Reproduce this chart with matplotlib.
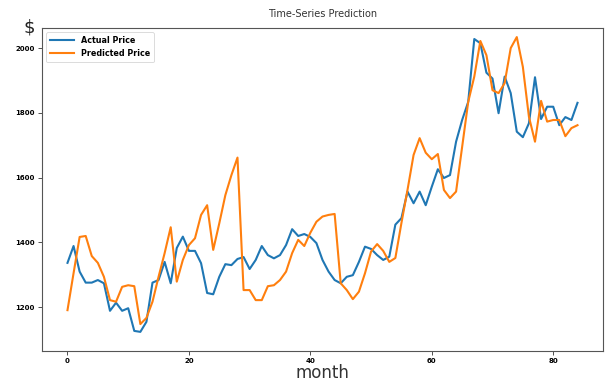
import matplotlib
matplotlib.use("Agg")
import matplotlib.pyplot as plt
import numpy as np

months = list(range(85))
actual_price = [1337, 1389, 1310, 1276, 1276, 1284, 1274, 1189, 1214, 1189,
                1197, 1127, 1124, 1155, 1276, 1284, 1340, 1274, 1383, 1418,
                1374, 1374, 1336, 1244, 1240, 1294, 1333, 1330, 1349, 1355,
                1318, 1346, 1389, 1361, 1351, 1361, 1392, 1441, 1420, 1426,
                1417, 1398, 1346, 1310, 1284, 1274, 1294, 1299, 1340, 1387,
                1380, 1361, 1346, 1356, 1455, 1475, 1557, 1521, 1557, 1515,
                1572, 1626, 1599, 1608, 1711, 1778, 1834, 2028, 2015, 1924,
                1906, 1799, 1912, 1861, 1742, 1725, 1768, 1910, 1781, 1819,
                1819, 1762, 1787, 1778, 1831]
predicted_price = [1191, 1305, 1417, 1420, 1358, 1337, 1294, 1222, 1217, 1263,
                   1268, 1265, 1148, 1167, 1217, 1294, 1367, 1447, 1279, 1346,
                   1392, 1413, 1485, 1515, 1377, 1459, 1546, 1608, 1662, 1253,
                   1253, 1222, 1222, 1265, 1268, 1284, 1310, 1367, 1408, 1389,
                   1430, 1464, 1480, 1485, 1488, 1274, 1253, 1225, 1248, 1305,
                   1372, 1395, 1374, 1340, 1352, 1460, 1562, 1670, 1722, 1677,
                   1657, 1673, 1562, 1537, 1557, 1695, 1834, 1912, 2022, 1978,
                   1870, 1861, 1892, 2000, 2034, 1942, 1788, 1711, 1837, 1773,
                   1778, 1778, 1728, 1753, 1762]
xticks = [0, 20, 40, 60, 80]
yticks = [1200, 1400, 1600, 1800, 2000]

fig = plt.figure(figsize=(6.05, 3.82), dpi=100)
ax = fig.add_axes([0.0694, 0.0812, 0.9273, 0.8455])
ax.plot(months, actual_price, color="#1f77b4", lw=1.5, label="Actual Price")
ax.plot(months, predicted_price, color="#ff7f0e", lw=1.5, label="Predicted Price")
ax.set_xlim(-4.2, 88.2)
ax.set_ylim(1065, 2062)
ax.set_xticks(xticks)
ax.set_yticks(yticks)
ax.tick_params(labelsize=5, length=3, width=0.6, color="#333333", pad=2)
for lab in ax.get_xticklabels() + ax.get_yticklabels():
    lab.set_fontweight("bold")
for s in ax.spines.values():
    s.set_color("#555555")
    s.set_linewidth(0.8)
ax.set_title("Time-Series Prediction", fontsize=7, color="#333333", pad=8)
ax.set_xlabel("month", fontsize=12, color="#333333", labelpad=0)
fig.text(0.048, 0.927, "$", fontsize=13, color="#222222", ha="center", va="center")
leg = ax.legend(loc="upper left", prop={"size": 5.8, "weight": "bold"},
                frameon=True, borderpad=0.5, handlelength=3, labelspacing=0.5)
leg.get_frame().set_linewidth(0.6)
fig.savefig("out.png", dpi=100)
